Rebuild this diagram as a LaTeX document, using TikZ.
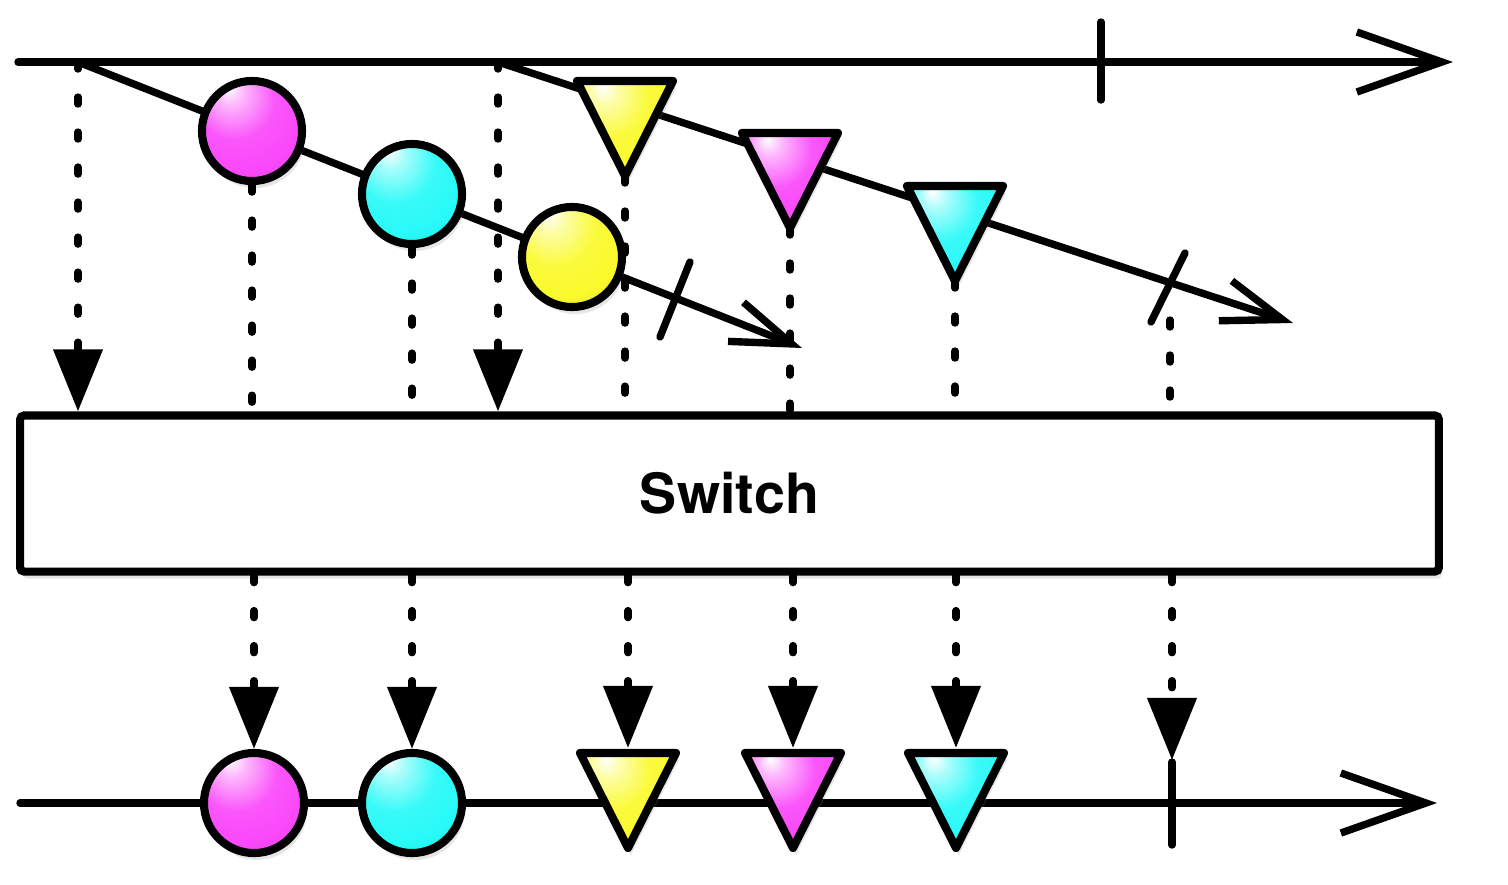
\documentclass[tikz,border=0pt]{standalone}
\usepackage{fontspec}
\setsansfont{TeX Gyre Heros}
\usetikzlibrary{arrows.meta,shadows}

\definecolor{rxmagenta}{RGB}{250,72,250}
\definecolor{rxcyan}{RGB}{40,250,248}
\definecolor{rxyellow}{RGB}{250,250,45}
\colorlet{glosscol}{rxmagenta}
\pgfdeclareradialshading[glosscol]{glossy}{\pgfpoint{-12bp}{22bp}}{%
  color(0bp)=(white); color(7bp)=(glosscol!40!white); color(20bp)=(glosscol!92!white);
  color(32bp)=(glosscol); color(50bp)=(glosscol!85!black); color(72bp)=(glosscol!60!black)}

\tikzset{
  rxline/.style={line width=2.1pt, line cap=round},
  timeline/.style={rxline, -{Straight Barb[length=0.85cm, width=0.6cm]}},
  subline/.style={rxline, -{Straight Barb[length=0.6cm, width=0.42cm]}},
  flow/.style={rxline, dash pattern=on 0.07cm off 0.28cm},
  flowin/.style={flow, -{Triangle[length=0.62cm, width=0.48cm]}},
  softshadow/.style={drop shadow={shadow xshift=0.03cm, shadow yshift=-0.07cm, opacity=0.2}},
  gloss/.style={/utils/exec={\colorlet{glosscol}{#1}}, shade, shading=glossy,
    draw=black, line width=2.3pt, line join=round, softshadow},
  marble/.style={gloss=#1, circle, inner sep=0pt, minimum size=1.0cm},
  pics/tri/.style={code={
    \path[gloss=#1] (-48,0) -- (48,0) -- (0,95) -- cycle;
    \coordinate (-top) at (0,-5);
    \coordinate (-apex) at (0,95);
  }},
}

\begin{document}
\begin{tikzpicture}[x=0.01cm, y=-0.01cm]
  \useasboundingbox (0,0) rectangle (1508,884);

  % source timeline
  \coordinate (t0) at (18,62);
  \coordinate (t1) at (1453,62);
  \draw[timeline] (t0) -- (t1);
  \draw[rxline] (1101,22) -- (1101,100);

  % first inner stream
  \coordinate (s1) at (78,62);
  \coordinate (e1) at (802,348);
  \draw[subline] (s1) -- (e1);
  \draw[rxline] (660,337) -- (690,262);

  % second inner stream
  \coordinate (s2) at (498,62);
  \coordinate (e2) at (1293,323);
  \coordinate (k2) at (1170,320);
  \draw[subline] (s2) -- (e2);
  \draw[rxline] (1151,322) -- (1185,253);

  % operator box
  \node[draw, fill=white, line width=2.3pt, rounded corners=0.04cm, softshadow,
        minimum width=14.18cm, minimum height=1.56cm, inner sep=0pt,
        font=\sffamily\bfseries\fontsize{15.8pt}{19pt}\selectfont]
        (sw) at (729.5,493.5) {Switch};

  % into the box
  \draw[flowin] (s1) -- (s1 |- sw.north);
  \draw[flowin] (s2) -- (s2 |- sw.north);
  \draw[flow] (k2) -- (k2 |- sw.north);

  \node[marble=rxmagenta] (im) at (252,131) {};
  \node[marble=rxcyan] (ic) at (412,194) {};
  \node[marble=rxyellow] (iy) at (572,257) {};
  \pic (ity) at (625,81) {tri=rxyellow};
  \pic (itm) at (790,133) {tri=rxmagenta};
  \pic (itc) at (955,186) {tri=rxcyan};

  \foreach \n in {im,ic}
    \draw[flow] (\n.south) -- (\n.south |- sw.north);
  \foreach \n in {ity,itm,itc}
    \draw[flow] (\n-apex) -- (\n-apex |- sw.north);

  % result timeline
  \coordinate (r0) at (20,803);
  \coordinate (r1) at (1437,803);
  \coordinate (rk) at (1172,760);
  \draw[timeline] (r0) -- (r1);
  \draw[rxline] (1172,762) -- (1172,845);

  \node[marble=rxmagenta] (om) at (254,803) {};
  \node[marble=rxcyan] (oc) at (412,803) {};
  \pic (oty) at (628,753) {tri=rxyellow};
  \pic (otm) at (793,753) {tri=rxmagenta};
  \pic (otc) at (956,753) {tri=rxcyan};

  % out of the box
  \foreach \n in {om,oc}
    \draw[flowin] (\n.north |- sw.south) -- (\n.north);
  \foreach \n in {oty,otm,otc}
    \draw[flowin] (\n-top |- sw.south) -- (\n-top);
  \draw[flowin] (rk |- sw.south) -- (rk);
\end{tikzpicture}
\end{document}
